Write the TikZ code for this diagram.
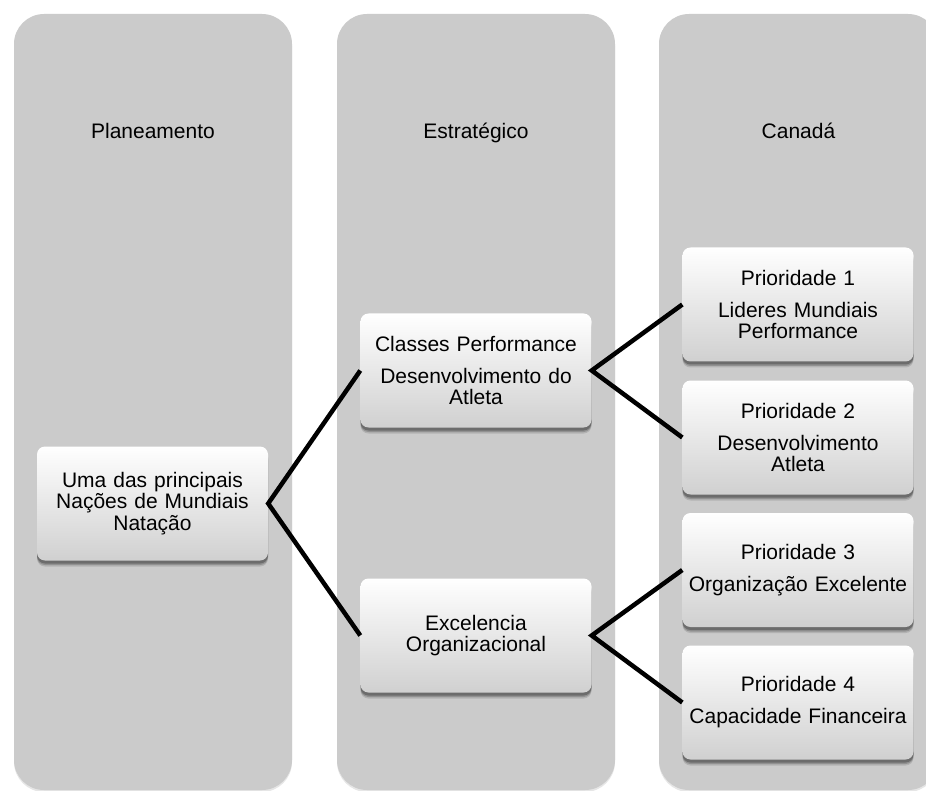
\documentclass[tikz,border=0pt]{standalone}
\usepackage{fontspec}
\setmainfont{Liberation Sans}
\usetikzlibrary{shadows}
\definecolor{colgray}{RGB}{203,203,203}
\definecolor{boxbot}{RGB}{208,208,208}
\begin{document}
\begin{tikzpicture}[x=1pt,y=-1pt,
  colbox/.style={fill=colgray, draw=none, rounded corners=30pt,
    drop shadow={shadow xshift=0pt, shadow yshift=-2pt, opacity=0.2}},
  headtext/.style={font=\fontsize{21}{22}\selectfont, inner sep=0pt, anchor=base},
  itembox/.style={draw=none, rounded corners=8pt, minimum width=231pt, minimum height=114pt,
    top color=white, bottom color=boxbot, align=center, text width=225pt, inner sep=0pt,
    font=\fontsize{21}{21.5}\selectfont,
    drop shadow={shadow xshift=0pt, shadow yshift=-6pt, opacity=0.12, fill=black},
    drop shadow={shadow xshift=0pt, shadow yshift=-4.5pt, opacity=0.18, fill=black},
    drop shadow={shadow xshift=0pt, shadow yshift=-3pt, opacity=0.25, fill=black}},
  link/.style={line width=4.5pt}]
\useasboundingbox (0,0) rectangle (926,791);
% columns
\path[colbox] (14,14) rectangle (292,790);
\path[colbox] (337,14) rectangle (615,790);
\path[colbox] (659,14) rectangle (938,790);
% headers
\node[headtext] (h1) at (153,138.5) {Planeamento};
\node[headtext] (h2) at (476,138.5) {Estratégico};
\node[headtext] (h3) at (798.5,138.5) {Canadá};
% boxes
\node[itembox] (root) at (152.5,503.5) {Uma das principais\\Nações de Mundiais\\Natação};
\node[itembox] (A) at (476,370.5) {Classes Performance\\[10.5pt]Desenvolvimento do\\Atleta};
\node[itembox] (B) at (476,635.5) {Excelencia\\Organizacional};
\node[itembox] (P1) at (798,304.5) {Prioridade 1\\[10.5pt]Lideres Mundiais\\Performance};
\node[itembox] (P2) at (798,437.5) {Prioridade 2\\[10.5pt]Desenvolvimento\\Atleta};
\node[itembox] (P3) at (798,570) {Prioridade 3\\[10.5pt]Organização Excelente};
\node[itembox] (P4) at (798,702.5) {Prioridade 4\\[10.5pt]Capacidade Financeira};
% connectors
\draw[link] (A.west) -- (root.east) -- (B.west);
\draw[link] (P1.west) -- (A.east) -- (P2.west);
\draw[link] (P3.west) -- (B.east) -- (P4.west);
\end{tikzpicture}
\end{document}
